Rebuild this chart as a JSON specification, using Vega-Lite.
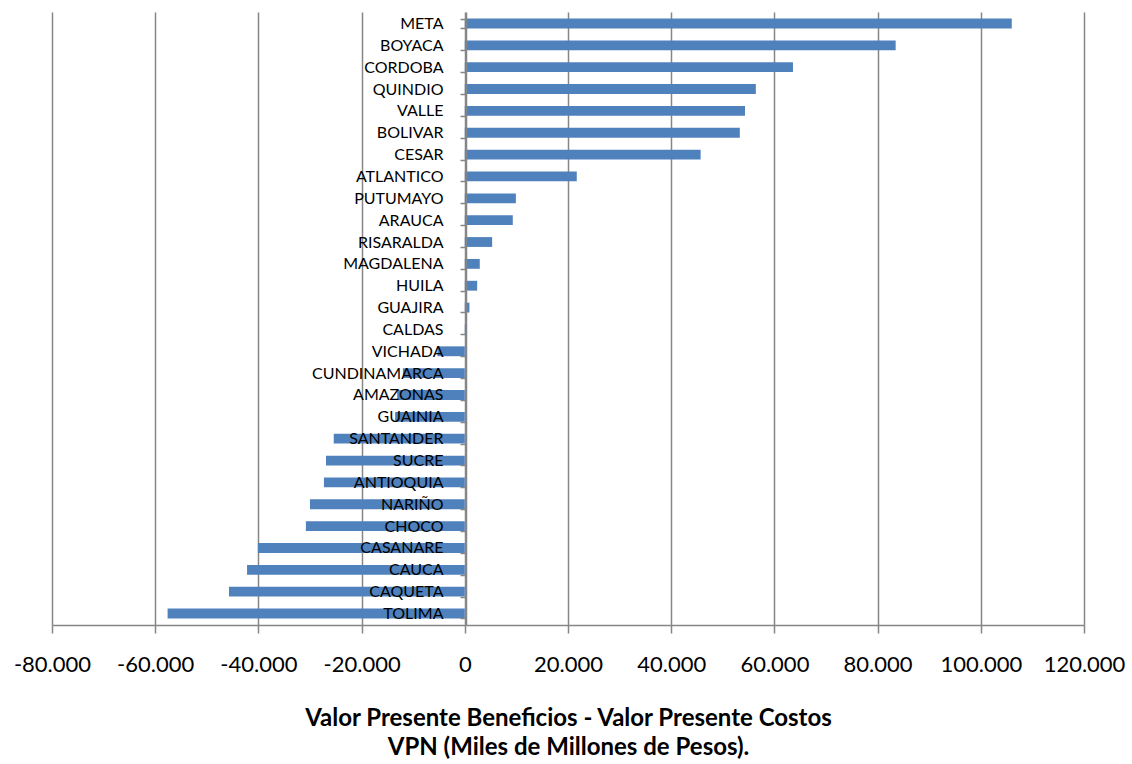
{
  "$schema": "https://vega.github.io/schema/vega-lite/v6.json",
  "width": 1032,
  "height": 613,
  "autosize": "none",
  "padding": {"left": 52, "top": 12, "right": 48, "bottom": 139},
  "background": "white",
  "config": {"view": {"stroke": null}, "font": "Lato"},
  "data": {"values": [
    {"dep": "META", "vpn": 106000},
    {"dep": "BOYACA", "vpn": 83500},
    {"dep": "CORDOBA", "vpn": 63600},
    {"dep": "QUINDIO", "vpn": 56400},
    {"dep": "VALLE", "vpn": 54300},
    {"dep": "BOLIVAR", "vpn": 53300},
    {"dep": "CESAR", "vpn": 45700},
    {"dep": "ATLANTICO", "vpn": 21700},
    {"dep": "PUTUMAYO", "vpn": 9900},
    {"dep": "ARAUCA", "vpn": 9300},
    {"dep": "RISARALDA", "vpn": 5300},
    {"dep": "MAGDALENA", "vpn": 2900},
    {"dep": "HUILA", "vpn": 2400},
    {"dep": "GUAJIRA", "vpn": 900},
    {"dep": "CALDAS", "vpn": 200},
    {"dep": "VICHADA", "vpn": -5300},
    {"dep": "CUNDINAMARCA", "vpn": -12000},
    {"dep": "AMAZONAS", "vpn": -13100},
    {"dep": "GUAINIA", "vpn": -13500},
    {"dep": "SANTANDER", "vpn": -25400},
    {"dep": "SUCRE", "vpn": -26900},
    {"dep": "ANTIOQUIA", "vpn": -27300},
    {"dep": "NARIÑO", "vpn": -30000},
    {"dep": "CHOCO", "vpn": -30800},
    {"dep": "CASANARE", "vpn": -40100},
    {"dep": "CAUCA", "vpn": -42200},
    {"dep": "CAQUETA", "vpn": -45700},
    {"dep": "TOLIMA", "vpn": -57600}
  ]},
  "mark": {"type": "bar", "color": "#4F81BD"},
  "encoding": {
    "y": {
      "field": "dep", "type": "nominal", "sort": null,
      "scale": {"paddingInner": 0.55, "paddingOuter": 0.3},
      "axis": {
        "title": null, "offset": -414, "zindex": 1,
        "tickBand": "extent", "tickSize": 6, "tickColor": "#868686", "tickWidth": 1.5,
        "domainColor": "#868686", "domainWidth": 1.5,
        "labelPadding": 17, "labelFontSize": 16, "labelColor": "#000000",
        "labelFont": "Lato", "grid": false
      }
    },
    "x": {
      "field": "vpn", "type": "quantitative",
      "scale": {"domain": [-80000, 120000], "nice": false, "zero": false},
      "axis": {
        "values": [-80000, -60000, -40000, -20000, 0, 20000, 40000, 60000, 80000, 100000, 120000],
        "labelExpr": "replace(replace(format(datum.value, ','), ',', '.'), '\u2212', '-')",
        "grid": true, "gridColor": "#868686", "gridWidth": 1.5,
        "domainColor": "#868686", "domainWidth": 1.5,
        "tickColor": "#868686", "tickWidth": 1.5, "tickSize": 8,
        "labelFontSize": 22, "labelColor": "#000000", "labelPadding": 21, "labelFont": "Lato",
        "labelFlush": false,
        "title": ["Valor Presente Beneficios - Valor Presente Costos", "VPN (Miles de Millones de Pesos)."],
        "titleFontSize": 24, "titleFontWeight": "bold", "titleColor": "#000000", "titleFont": "Lato",
        "titlePadding": 31, "titleLineHeight": 29
      }
    }
  }
}
